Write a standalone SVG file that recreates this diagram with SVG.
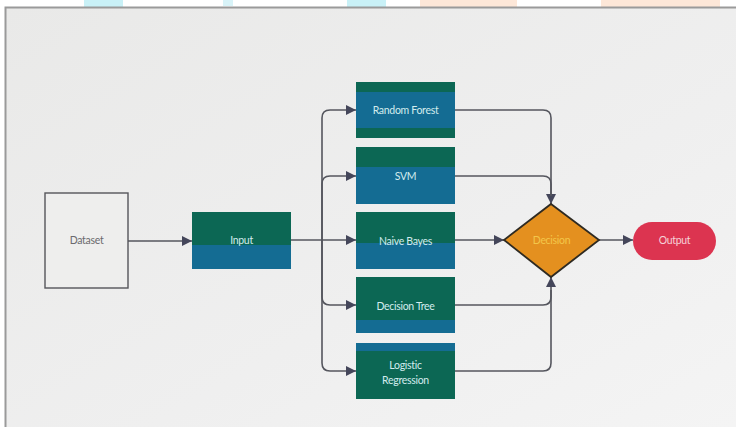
<svg xmlns="http://www.w3.org/2000/svg" width="736" height="427" viewBox="0 0 736 427">
  <defs>
    <linearGradient id="paper" x1="0" y1="0" x2="1" y2="1">
      <stop offset="0" stop-color="#E9E9E8"/>
      <stop offset="0.6" stop-color="#EFEFEF"/>
      <stop offset="1" stop-color="#F4F4F4"/>
    </linearGradient>
    <marker id="arr" markerUnits="userSpaceOnUse" markerWidth="10" markerHeight="10" viewBox="0 0 10 10" refX="10" refY="5" orient="auto">
      <path d="M0,0 L10,5 L0,10 Z" fill="#44465A"/>
    </marker>
    <style>
      .lbl{font-family:Lato,"Open Sans","Liberation Sans",sans-serif;font-size:10.5px;text-anchor:middle;dominant-baseline:middle;fill:#D3ECEE;letter-spacing:-0.3px}
      .green{fill:#0C6754}
      .blue{fill:#146C93}
      .con{fill:none;stroke:#55565E;stroke-width:1.6}
      .conA{fill:none;stroke:#55565E;stroke-width:1.6;marker-end:url(#arr)}
    </style>
  </defs>

  <!-- background -->
  <rect x="0" y="0" width="736" height="427" fill="#FFFFFF"/>
  <rect x="84" y="0" width="39" height="7" fill="#C9F1F7"/>
  <rect x="223" y="0" width="10" height="6" fill="#D8F3F8"/>
  <rect x="347" y="0" width="39" height="7" fill="#C9F1F7"/>
  <rect x="420" y="0" width="97" height="7" fill="#FDE7D8"/>
  <rect x="601" y="0" width="119" height="7" fill="#FDE7D8"/>
  <rect x="5" y="7" width="731" height="420" fill="url(#paper)"/>
  <path d="M5.5,427 V7.5 H736" fill="none" stroke="#9A9A9A" stroke-width="2"/>

  <!-- connectors -->
  <g id="connectors">
    <path class="conA" d="M128,241 H192"/>
    <path class="conA" d="M291,240 H356"/>
    <path class="conA" d="M322,240 V118 Q322,110 330,110 H356"/>
    <path class="conA" d="M322,240 V184 Q322,176 330,176 H356"/>
    <path class="conA" d="M322,240 V297 Q322,305 330,305 H356"/>
    <path class="conA" d="M322,240 V363 Q322,371 330,371 H356"/>
    <path class="conA" d="M455,110 H543 Q551,110 551,118 V204"/>
    <path class="con" d="M455,176 H543 Q551,176 551,184 V196"/>
    <path class="conA" d="M455,240 H504"/>
    <path class="conA" d="M455,305 H543 Q551,305 551,297 V277"/>
    <path class="con" d="M455,371 H543 Q551,371 551,363 V290"/>
    <path class="conA" d="M599,240 H633"/>
  </g>

  <!-- nodes -->
  <g id="dataset">
    <rect x="45" y="193" width="83" height="95" fill="#EEEEED" stroke="#55555A" stroke-width="1.4"/>
    <text class="lbl" x="86.5" y="241" style="fill:#6A6A6E">Dataset</text>
  </g>

  <g id="input">
    <rect class="blue" x="192" y="212" width="99" height="57"/>
    <rect class="green" x="192" y="212" width="99" height="33"/>
    <text class="lbl" x="241.5" y="241">Input</text>
  </g>

  <g id="random-forest">
    <rect class="green" x="356" y="82" width="99" height="56"/>
    <rect class="blue" x="356" y="92" width="99" height="36"/>
    <text class="lbl" x="405.5" y="111">Random Forest</text>
  </g>

  <g id="svm">
    <rect class="blue" x="356" y="147" width="99" height="57"/>
    <rect class="green" x="356" y="147" width="99" height="20"/>
    <text class="lbl" x="405.5" y="177">SVM</text>
  </g>

  <g id="naive-bayes">
    <rect class="blue" x="356" y="212" width="99" height="57"/>
    <rect class="green" x="356" y="212" width="99" height="31"/>
    <text class="lbl" x="405.5" y="242">Naive Bayes</text>
  </g>

  <g id="decision-tree">
    <rect class="blue" x="356" y="277" width="99" height="56"/>
    <rect class="green" x="356" y="277" width="99" height="43"/>
    <text class="lbl" x="405.5" y="307">Decision Tree</text>
  </g>

  <g id="logistic-regression">
    <rect class="green" x="356" y="343" width="99" height="56"/>
    <rect class="blue" x="356" y="343" width="99" height="8"/>
    <text class="lbl" x="405.5" y="366">Logistic</text>
    <text class="lbl" x="405.5" y="381">Regression</text>
  </g>

  <g id="decision">
    <polygon points="551,204 599,240 551,277 504,240" fill="#E4901F" stroke="#2E2A22" stroke-width="1.8"/>
    <text class="lbl" x="551.5" y="241" style="fill:#F3C64A">Decision</text>
  </g>

  <g id="output">
    <rect x="633" y="222" width="83" height="38" rx="19" fill="#DC3450"/>
    <text class="lbl" x="674.5" y="241" style="fill:#F6D2D8">Output</text>
  </g>
</svg>
